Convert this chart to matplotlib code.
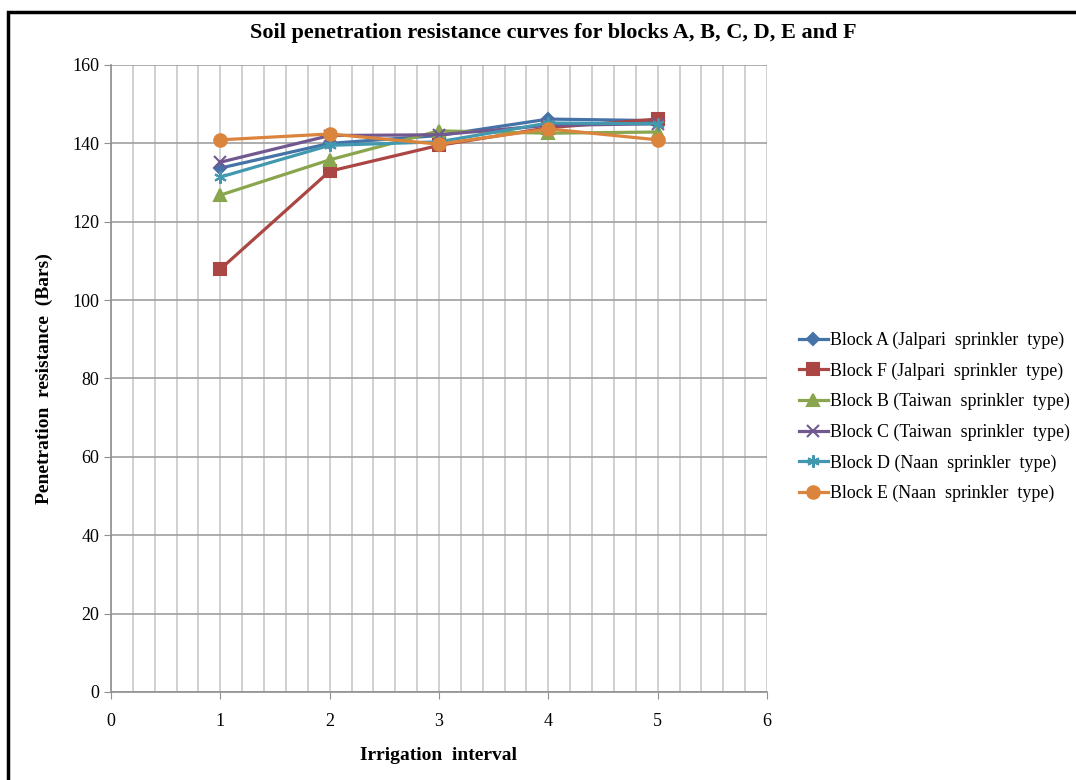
import matplotlib
matplotlib.use("Agg")
import matplotlib.pyplot as plt
from matplotlib.patches import Rectangle
import numpy as np

x = [1, 2, 3, 4, 5]
block_a = [133.7, 140.0, 142.0, 146.2, 145.8]
block_f = [107.9, 132.9, 139.5, 144.0, 146.2]
block_b = [126.8, 135.8, 143.2, 142.6, 142.9]
block_c = [135.2, 142.0, 142.2, 144.6, 145.0]
block_d = [131.4, 139.5, 140.4, 145.2, 145.0]
block_e = [140.9, 142.4, 139.8, 143.7, 140.9]

labels = ["Block A (Jalpari  sprinkler  type)",
          "Block F (Jalpari  sprinkler  type)",
          "Block B (Taiwan  sprinkler  type)",
          "Block C (Taiwan  sprinkler  type)",
          "Block D (Naan  sprinkler  type)",
          "Block E (Naan  sprinkler  type)"]
series = [block_a, block_f, block_b, block_c, block_d, block_e]
colors = ["#4572A7", "#AA4643", "#89A54E", "#71588F", "#4198AF", "#DB843D"]
markers = ["D", "s", "^", "x", (6, 2, 0), "o"]
msizes = [6, 8, 8, 8, 9, 9]

plt.rcParams['font.family'] = ['Liberation Serif', 'DejaVu Serif']

fig = plt.figure(figsize=(10.76, 7.80), dpi=100)
ax = fig.add_axes([111/1076, 1-692/780, (767-111)/1076, (692-65)/780])

for ys, lab, c, m, ms in zip(series, labels, colors, markers, msizes):
    ax.plot(x, ys, color=c, lw=2.3, marker=m, markersize=ms, label=lab,
            markeredgecolor=c, markerfacecolor=c, mew=1.5)

ax.set_xlim(0, 6)
ax.set_ylim(0, 160)
ax.set_xticks(range(0, 7))
ax.set_xticks(np.arange(0, 6.01, 0.2), minor=True)
ax.set_yticks(range(0, 161, 20))
ax.grid(which='minor', axis='x', color='#c8c8c8', lw=1.2)
ax.grid(which='major', axis='x', color='#c8c8c8', lw=1.2)
ax.grid(which='major', axis='y', color='#a0a0a0', lw=1.2)
ax.set_axisbelow(True)
for s in ['top', 'right']:
    ax.spines[s].set_visible(False)
ax.spines['left'].set_color('#909090')
ax.spines['bottom'].set_color('#909090')
ax.spines['left'].set_linewidth(1.2)
ax.spines['bottom'].set_linewidth(1.2)
ax.tick_params(axis='both', which='major', colors='#909090', labelcolor='black',
               labelsize=13, length=5)
ax.tick_params(axis='x', which='minor', length=0)
ax.tick_params(axis='x', which='major', pad=10)

ax.set_xlabel("Irrigation  interval", fontsize=14, fontweight='bold', labelpad=12)
ax.set_ylabel("Penetration  resistance  (Bars)", fontsize=14, fontweight='bold', labelpad=14)
fig.text(553/1076, 1-33/780, "Soil penetration resistance curves for blocks A, B, C, D, E and F",
         ha='center', va='center', fontsize=16, fontweight='bold')

leg = ax.legend(loc='center left', bbox_to_anchor=(783/1076, 1-417/780),
                bbox_transform=fig.transFigure, frameon=False, fontsize=12.9,
                handlelength=1.6, handletextpad=0.1, labelspacing=0.74)

fig.patches.append(Rectangle((8/1076, -0.01), 1.2, 1-12/780+0.01, transform=fig.transFigure,
                             fill=False, edgecolor='black', lw=2.5))

fig.savefig("out.png", dpi=100)
